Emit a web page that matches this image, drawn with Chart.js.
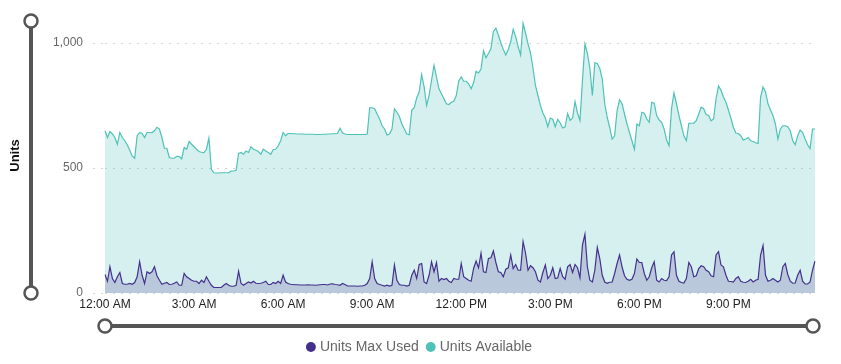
<!DOCTYPE html>
<html>
<head>
<meta charset="utf-8">
<script src="https://cdn.jsdelivr.net/npm/chart.js@4"></script>
<style>
    html, body { margin: 0; padding: 0; background: #fff; }
    #wrap { width: 841px; height: 364px; position: relative; }
</style>
</head>
<body>
<div id="wrap"><canvas id="unitsChart"></canvas></div>
<script>
const tickLabels = ['12:00 AM', '3:00 AM', '6:00 AM', '9:00 AM', '12:00 PM', '3:00 PM', '6:00 PM', '9:00 PM'];
const yTicks = [0, 500, 1000];

// one slot every 5 minutes over the day
const times = [];
for (let m = 0; m < 24 * 60; m += 5) {
    const h = Math.floor(m / 60);
    const mm = String(m % 60).padStart(2, '0');
    times.push(`${h % 12 || 12}:${mm} ${h < 12 ? 'AM' : 'PM'}`);
}

const unitsAvailable = [
    649,622,646,636,622,595,642,622,609,593,571,548,539,629,642,638,622,642,642,641,649,663,656,622,579,579,542,539,539,547,546,537,582,575,606,595,585,575,566,563,562,575,620,495,481,480,480,
    481,481,481,481,488,488,491,558,562,555,568,562,585,575,571,566,555,575,568,562,555,574,575,589,609,642,629,638,638,637,637,636,636,636,635,635,635,635,634,634,634,635,635,636,636,637,637,638,
    659,641,636,634,634,634,634,634,634,634,634,636,741,741,737,716,696,669,656,632,636,656,737,723,706,676,656,636,633,732,741,781,804,874,824,750,790,851,911,864,817,797,777,757,754,763,767,
    790,848,864,847,847,837,817,841,887,880,896,969,941,958,978,1046,1059,1032,1001,974,952,974,1005,1055,1025,985,952,1079,1039,996,960,900,830,790,750,720,700,665,700,695,665,695,680,660,665,718,690,700,
    766,720,690,850,996,958,898,790,921,918,898,857,757,703,663,616,629,730,773,757,716,676,642,609,575,676,669,723,719,696,683,763,759,710,692,683,656,612,589,737,800,757,710,669,629,609,679,679,
    679,689,716,743,737,714,710,689,696,777,828,811,784,763,732,700,663,640,638,629,612,616,622,609,606,601,598,784,824,804,757,732,710,676,616,656,669,669,665,649,609,593,629,652,642,616,593,578,656,656
];

const unitsMaxUsed = [
    74,47,105,58,42,65,82,38,35,35,38,35,42,65,125,71,38,85,78,85,105,69,51,35,39,42,34,35,39,44,31,31,78,65,58,51,47,47,38,51,42,65,47,31,22,22,22,
    22,31,38,31,27,27,31,87,38,31,38,44,40,47,39,38,39,42,47,34,34,42,38,47,38,71,44,38,35,34,33,33,32,32,32,33,32,32,31,32,33,34,34,32,36,37,34,33,
    31,38,34,28,28,28,28,27,28,28,31,38,58,125,58,38,34,31,28,31,28,31,112,51,34,31,31,28,31,71,91,58,114,118,44,38,71,125,85,122,47,58,54,58,47,42,58,
    55,55,118,65,58,51,47,98,128,101,159,85,82,138,141,168,122,85,82,65,95,101,152,98,114,91,91,206,159,91,109,101,85,51,44,82,112,58,71,101,58,60,98,65,55,105,114,82,
    114,101,61,192,235,105,51,44,91,182,138,71,44,39,43,44,78,118,152,105,69,55,51,55,78,136,122,122,78,51,65,101,125,51,44,58,51,50,65,152,165,71,47,42,40,58,122,105,
    65,69,98,109,105,91,85,69,65,152,165,112,105,71,47,46,44,58,65,47,43,42,47,55,44,51,55,152,190,71,47,51,58,51,44,51,105,118,74,47,39,40,71,91,47,36,36,44,91,128
];

const FONT = 'Arial, "Liberation Sans", Helvetica, sans-serif';

function drawSlider(ctx, x1, y1, x2, y2) {
    ctx.strokeStyle = '#555';
    ctx.lineWidth = 4;
    ctx.beginPath();
    ctx.moveTo(x1, y1);
    ctx.lineTo(x2, y2);
    ctx.stroke();
    [[x1, y1], [x2, y2]].forEach(([x, y]) => {
        ctx.beginPath();
        ctx.arc(x, y, 6.5, 0, Math.PI * 2);
        ctx.fillStyle = '#fff';
        ctx.fill();
        ctx.lineWidth = 2.5;
        ctx.stroke();
    });
}

// range handles around the plot (decoration only)
const sliderPlugin = {
    id: 'rangeSliders',
    afterDraw(chart) {
        const { ctx, chartArea } = chart;
        ctx.save();
        drawSlider(ctx, 31, chartArea.top + 3, 31, chartArea.bottom);
        drawSlider(ctx, chartArea.left, chartArea.bottom + 33, chartArea.right - 2, chartArea.bottom + 33);
        ctx.restore();
    }
};

new Chart(document.getElementById('unitsChart'), {
    type: 'line',
    data: {
        labels: times,
        datasets: [
            {
                label: 'Units Max Used',
                data: unitsMaxUsed,
                borderColor: '#44308c',
                backgroundColor: 'rgba(68, 47, 140, 0.2)',
                borderWidth: 1.2,
                fill: 'origin',
                pointRadius: 0,
                tension: 0
            },
            {
                label: 'Units Available',
                data: unitsAvailable,
                borderColor: '#4ec2b8',
                backgroundColor: 'rgba(78, 194, 184, 0.24)',
                borderWidth: 1.2,
                fill: 'origin',
                pointRadius: 0,
                tension: 0
            }
        ]
    },
    options: {
        responsive: true,
        maintainAspectRatio: false,
        animation: false,
        layout: { padding: { top: 18, right: 26, left: 26, bottom: 0 } },
        scales: {
            x: {
                type: 'category',
                offset: false,
                grid: { display: false, drawTicks: false },
                border: { display: false },
                ticks: {
                    autoSkip: false,
                    maxRotation: 0,
                    padding: 4,
                    color: '#222',
                    font: { family: FONT, size: 12 },
                    callback: (v, i) => tickLabels.includes(times[i]) ? times[i] : null
                },
                afterFit: s => { s.height = 37; }
            },
            y: {
                min: 0,
                max: 1100,
                title: {
                    display: true,
                    text: 'Units',
                    color: '#111',
                    font: { family: FONT, size: 13, weight: 'bold' },
                    padding: { top: -18, bottom: 0 }
                },
                ticks: {
                    autoSkip: false,
                    padding: 10,
                    color: '#666',
                    font: { family: FONT, size: 12 },
                    callback: v => v.toLocaleString('en-US')
                },
                afterBuildTicks: s => { s.ticks = yTicks.map(v => ({ value: v })); },
                afterFit: s => { s.width = 79; },
                grid: {
                    color: '#d4d4d4',
                    tickColor: '#d4d4d4',
                    tickLength: 12,
                    tickBorderDash: [2, 6]
                },
                border: { display: false, dash: [2, 6] }
            }
        },
        plugins: {
            tooltip: { enabled: false },
            legend: {
                position: 'bottom',
                labels: {
                    usePointStyle: true,
                    boxWidth: 4,
                    boxHeight: 7,
                    padding: 10,
                    color: '#666',
                    font: { family: FONT, size: 14 },
                    generateLabels: chart => chart.data.datasets.map((ds, i) => ({
                        text: ds.label,
                        fillStyle: ds.borderColor,
                        strokeStyle: ds.borderColor,
                        lineWidth: 0,
                        pointStyle: 'circle',
                        hidden: false,
                        datasetIndex: i,
                        fontColor: '#666'
                    }))
                }
            }
        }
    },
    plugins: [sliderPlugin]
});
</script>
</body>
</html>
